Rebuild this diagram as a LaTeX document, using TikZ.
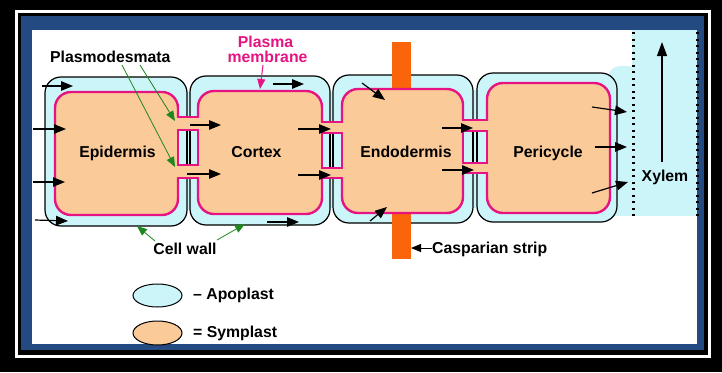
\documentclass[tikz,border=0pt]{standalone}
\usepackage{fontspec}
\setmainfont{Liberation Sans}
\usetikzlibrary{arrows.meta}
\definecolor{apo}{RGB}{204,245,250}
\definecolor{sym}{RGB}{250,202,152}
\definecolor{memb}{RGB}{230,20,130}
\definecolor{casp}{RGB}{250,100,10}
\definecolor{grn}{RGB}{30,135,30}
\definecolor{frameblue}{RGB}{36,74,130}
\begin{document}
\begin{tikzpicture}[x=1pt,y=-1pt,
  lbl/.style={font=\fontsize{15.8}{18}\selectfont\bfseries, inner sep=0pt, anchor=base},
  wallbox/.style={draw=black, line width=1.2pt, fill=apo, rounded corners=16pt},
  symbox/.style={draw=memb, line width=2.4pt, fill=sym, rounded corners=16pt},
  flow/.style={draw=black, line width=1.2pt, -{Triangle[length=12pt,width=9.5pt]}},
  garrow/.style={draw=grn, line width=0.8pt, -{Triangle[length=10pt,width=8pt]}},
  marrow/.style={draw=memb, line width=1pt, -{Triangle[length=10pt,width=8pt]}}
]
\useasboundingbox (0,0) rectangle (722,372);
% frame
\fill[black] (0,0) rectangle (722,372);
\draw[white, line width=3pt] (16.5,11.5) rectangle (709,356);
\fill[frameblue] (21,16) rectangle (704,350);
\fill[white] (32,30) rectangle (697,344);
% xylem
\fill[apo] (632,30) rectangle (697,216);
\fill[apo, rounded corners=12pt] (608,66) rectangle (640,216);
\fill[apo] (608,200) rectangle (640,216);
\draw[black, line width=3pt, dash pattern=on 2pt off 4.5pt] (633,32) -- (633,216);
\draw[black, line width=3pt, dash pattern=on 2pt off 4.5pt] (697,32) -- (697,216);
% gaps between walls
\fill[apo] (186,92) rectangle (191,210);
\fill[apo] (329,92) rectangle (334,208);
\fill[apo] (472,90) rectangle (478,208);
% cell walls
\draw[wallbox] (45,77) rectangle (187,226);
\draw[wallbox] (190,76) rectangle (330,225);
\draw[wallbox] (333,75) rectangle (473,223);
\draw[wallbox] (477,73) rectangle (617,222);
% casparian strip
\fill[casp] (392,42) rectangle (411,259);
% symplasts
\draw[symbox] (55,92) rectangle (178,215);
\draw[symbox] (198,91) rectangle (322,214);
\draw[symbox] (342,89) rectangle (463,213);
\draw[symbox] (487,83) rectangle (610,213);
% plasmodesmata
\foreach \xl/\xr/\wa/\wb/\ta/\ra/\rb/\bb in {178/198/187/190/117/130/165/178, 322/342/330/333/122/133/168/178, 463/487/473/477/120/131/163/173}{
  \fill[sym] (\xl-2,\ta) rectangle (\xr+2,\bb);
  \draw[memb, line width=2.4pt] (\xl-1.2,\ta) -- (\xr+1.2,\ta);
  \draw[memb, line width=2.4pt] (\xl-1.2,\bb) -- (\xr+1.2,\bb);
  \draw[memb, line width=2.4pt, fill=apo] (\xl,\ra) rectangle (\xr,\rb);
  \draw[black, line width=1.1pt] (\wa,\ra+1.2) -- (\wa,\rb-1.2);
  \draw[black, line width=1.1pt] (\wb,\ra+1.2) -- (\wb,\rb-1.2);
}
% casparian strip label
\node[lbl, anchor=base west] (cs) at (432,253) {Casparian strip};
\coordinate (csTip) at (411,248);
\draw[flow, line width=1pt, -{Triangle[length=10pt,width=8pt]}] (cs.west |- csTip) -- (csTip);
% flow arrows
\draw[flow] (42,86) -- (73,86);
\draw[flow] (33,129) -- (66,129);
\draw[flow] (33,182) -- (65,182);
\draw[flow] (35,220) -- (68,221);
\draw[flow] (190,125) -- (221,125);
\draw[flow] (187,174) -- (221,174);
\draw[flow] (273,84) -- (304,84);
\draw[flow] (267,222) -- (299,222);
\draw[flow] (298,129) -- (331,129);
\draw[flow] (298,175) -- (331,175);
\draw[flow] (362,83) -- (385,100);
\draw[flow] (370,221) -- (387,207);
\draw[flow] (442,128) -- (473,128);
\draw[flow] (442,170) -- (474,170);
\draw[flow] (592,107) -- (627,112);
\draw[flow] (595,147) -- (627,147);
\draw[flow] (592,193) -- (628,182);
% xylem arrow
\draw[black, line width=1.2pt, -{Triangle[length=14pt,width=10pt]}] (662,162) -- (662,42);
% texts
\node[lbl, anchor=base west] (plasmod) at (50,62) {Plasmodesmata};
\node[lbl, text=memb] (pm1) at (265.5,47) {Plasma};
\node[lbl, text=memb] (pm2) at (267.5,62) {membrane};
\node[lbl] (epi) at (117.5,157) {Epidermis};
\node[lbl] (cor) at (256.5,157) {Cortex};
\node[lbl] (endo) at (406,157) {Endodermis};
\node[lbl] (peri) at (548,157) {Pericycle};
\node[lbl] (xyl) at (665,181) {Xylem};
\node[lbl] (cw) at (185,254) {Cell wall};
% label arrows
\coordinate (pdUp) at (175,121);
\coordinate (pdLow) at (175,167);
\draw[garrow] (140,65) -- (pdUp);
\draw[garrow] (122,65) -- (pdLow);
\coordinate (cwL) at (137,226);
\coordinate (cwR) at (245,224);
\draw[garrow] (155,241) -- (cwL);
\draw[garrow] (217,240) -- (cwR);
\coordinate (pmTip) at (260,89);
\draw[marrow] (263,65) -- (pmTip);
% legend
\draw[black, line width=1pt, fill=apo] (157.5,295.5) ellipse [x radius=24.5, y radius=11.5];
\draw[black, line width=1pt, fill=sym] (157.5,333) ellipse [x radius=24.5, y radius=12];
\node[lbl, anchor=base west] (lapo) at (193,299) {– Apoplast};
\node[lbl, anchor=base west] (lsym) at (193,337) {= Symplast};
\end{tikzpicture}
\end{document}
